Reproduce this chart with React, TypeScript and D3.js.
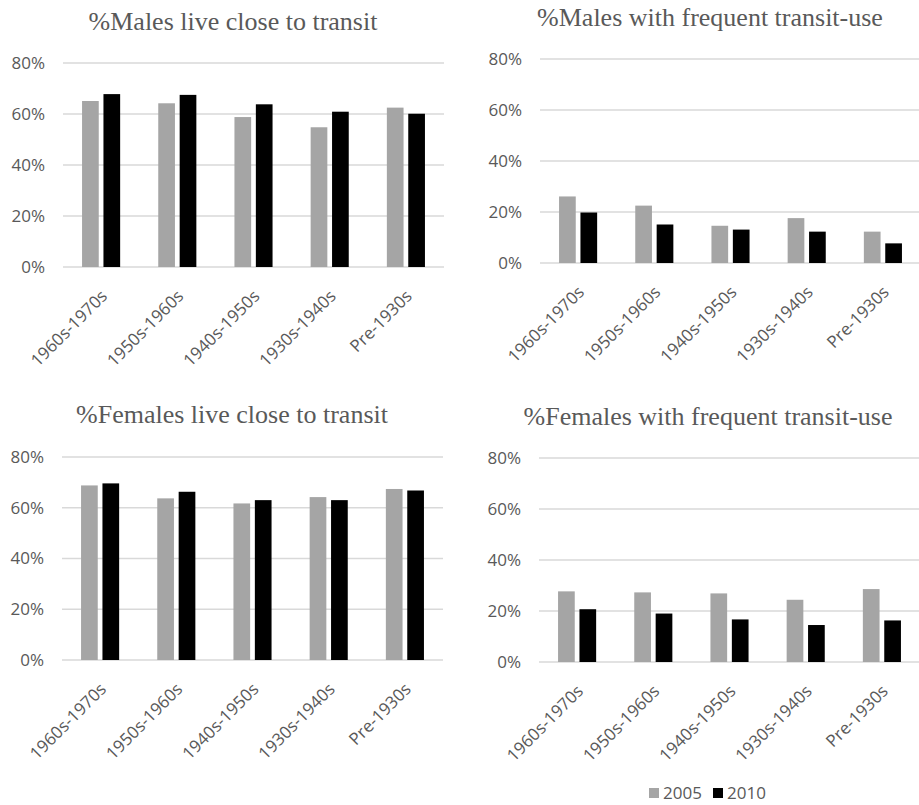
import React from "react";
import * as d3 from "d3";

const categories = ["1960s-1970s", "1950s-1960s", "1940s-1950s", "1930s-1940s", "Pre-1930s"];
const seriesNames = ["2005", "2010"];
const yTicks = [0, 0.2, 0.4, 0.6, 0.8];

const malesClose2005 = [0.651, 0.642, 0.588, 0.548, 0.625];
const malesClose2010 = [0.678, 0.675, 0.638, 0.609, 0.601];
const malesFreq2005 = [0.261, 0.225, 0.146, 0.176, 0.123];
const malesFreq2010 = [0.198, 0.151, 0.131, 0.123, 0.077];
const femalesClose2005 = [0.688, 0.637, 0.617, 0.642, 0.674];
const femalesClose2010 = [0.696, 0.663, 0.63, 0.63, 0.668];
const femalesFreq2005 = [0.277, 0.273, 0.269, 0.244, 0.286];
const femalesFreq2010 = [0.207, 0.19, 0.167, 0.145, 0.163];

const titles = [
  "%Males live close to transit",
  "%Males with frequent transit-use",
  "%Females live close to transit",
  "%Females with frequent transit-use",
];

const colors = ["#a5a5a5", "#000000"];
const textColor = "#595959";
const gridColor = "#d9d9d9";
const sansFont = "'Open Sans', 'Noto Sans', sans-serif";
const tickFontSize = 17;

type PanelLayout = {
  x0: number; x1: number; yTop: number; yBottom: number;
  titleX: number; titleY: number; labelX: number; gridEnd: number;
};

const layouts: PanelLayout[] = [
  { x0: 63, x1: 444, yTop: 63, yBottom: 267, titleX: 233, titleY: 30, labelX: 45, gridEnd: 444 },
  { x0: 540, x1: 921, yTop: 59, yBottom: 263, titleX: 710, titleY: 26, labelX: 522, gridEnd: 919 },
  { x0: 62, x1: 443, yTop: 457, yBottom: 660, titleX: 232, titleY: 423, labelX: 44, gridEnd: 443 },
  { x0: 539, x1: 920, yTop: 458, yBottom: 662, titleX: 708, titleY: 425, labelX: 521, gridEnd: 919 },
];

const panelData = [
  [malesClose2005, malesClose2010],
  [malesFreq2005, malesFreq2010],
  [femalesClose2005, femalesClose2010],
  [femalesFreq2005, femalesFreq2010],
];

function Panel({ layout, series, title }: { layout: PanelLayout; series: number[][]; title: string }) {
  const x = d3.scaleBand<string>().domain(categories).range([layout.x0, layout.x1]).paddingInner(0.5).paddingOuter(0.25);
  const xs = d3.scaleBand<string>().domain(seriesNames).range([0, x.bandwidth()]).paddingInner(0.22);
  const y = d3.scaleLinear().domain([0, 0.8]).range([layout.yBottom, layout.yTop]);
  const fmt = d3.format(".0%");
  return (
    <g>
      <text x={layout.titleX} y={layout.titleY} textAnchor="middle" fontFamily="'Liberation Serif', 'Times New Roman', serif" fontSize={26} fill={textColor}>
        {title}
      </text>
      {yTicks.map((t) => (
        <g key={t}>
          <line x1={layout.x0} x2={layout.gridEnd} y1={y(t)} y2={y(t)} stroke={gridColor} strokeWidth={1.5} />
          <text x={layout.labelX} y={y(t)} dy="0.35em" textAnchor="end" fontFamily={sansFont} fontSize={tickFontSize} fill={textColor}>
            {fmt(t)}
          </text>
        </g>
      ))}
      {series.map((vals, si) =>
        vals.map((v, ci) => (
          <rect
            key={`${si}-${ci}`}
            x={(x(categories[ci]) as number) + (xs(seriesNames[si]) as number)}
            y={y(v)}
            width={xs.bandwidth()}
            height={layout.yBottom - y(v)}
            fill={colors[si]}
          />
        ))
      )}
      {categories.map((c) => {
        const cx = (x(c) as number) + x.bandwidth() / 2;
        return (
          <text
            key={c}
            transform={`translate(${cx + 3},${layout.yBottom + 26}) rotate(-45)`}
            textAnchor="end"
            dy="0.35em"
            fontFamily={sansFont}
            fontSize={tickFontSize}
            fill={textColor}
          >
            {c}
          </text>
        );
      })}
    </g>
  );
}

export default function App() {
  const legendX = 649;
  const legendY = 793;
  return (
    <svg width={919} height={805} style={{ position: "absolute", left: 0, top: 0, background: "#fff" }}>
      <rect width={919} height={805} fill="#fff" />
      {layouts.map((l, i) => (
        <Panel key={i} layout={l} series={panelData[i]} title={titles[i]} />
      ))}
      <g>
        {seriesNames.map((s, i) => (
          <g key={s} transform={`translate(${legendX + i * 64},${legendY})`}>
            <rect x={0} y={-5} width={10} height={10} fill={colors[i]} />
            <text x={14} y={0} dy="0.35em" fontFamily={sansFont} fontSize={tickFontSize} fill={textColor}>
              {s}
            </text>
          </g>
        ))}
      </g>
    </svg>
  );
}
